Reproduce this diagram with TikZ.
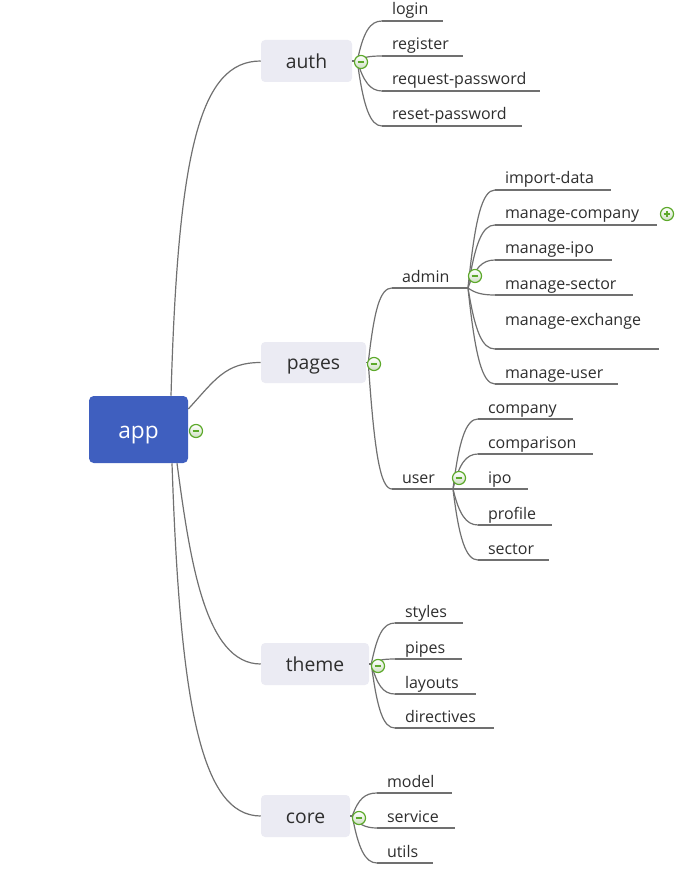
\documentclass[tikz,border=0pt]{standalone}
\usepackage{fontspec}
\setmainfont{Open Sans}
\usetikzlibrary{calc}
\definecolor{linec}{HTML}{707070}
\definecolor{boxc}{HTML}{EBEBF3}
\definecolor{appc}{HTML}{3F5FBF}
\definecolor{textc}{HTML}{2E2E2E}
\definecolor{markc}{HTML}{5DA92B}
\definecolor{markf}{HTML}{CFDFC4}
\tikzset{
  topic/.style={rounded corners=3pt, fill=boxc, text=textc, inner sep=0pt,
    text height=11.2pt, text depth=0pt,
    font=\fontsize{14.5}{17}\selectfont, minimum height=31.5pt},
  apptopic/.style={rounded corners=3.5pt, fill=appc, text=white, inner sep=0pt,
    text height=14.2pt, text depth=0pt,
    font=\fontsize{17}{20}\selectfont, minimum width=74.25pt, minimum height=50.25pt},
  leaf/.style={anchor=south west, inner xsep=7.5pt, inner ysep=4.5pt, text depth=0pt,
    outer sep=0pt, text=textc, font=\fontsize{12}{14}\selectfont},
  conn/.style={draw=linec, line width=0.9pt},
  uline/.style={draw=linec, line width=0.9pt},
  minusmark/.pic={
    \draw[markc, line width=0.9pt, top color=white, bottom color=markf] (0,0) circle[radius=4.9pt];
    \draw[markc, line width=1.1pt] (-3.4,0) -- (3.4,0);
  },
  plusmark/.pic={
    \draw[markc, line width=0.9pt, top color=white, bottom color=markf] (0,0) circle[radius=4.9pt];
    \draw[markc, line width=1.1pt] (-3.4,0) -- (3.4,0) (0,-3.4) -- (0,3.4);
  }
}
\begin{document}
\begin{tikzpicture}[x=0.75pt,y=-0.75pt]
\useasboundingbox (0,0) rectangle (691,873);

% main topics
\node[apptopic] (app) at (138.5,429.5) {app};
\node[topic, minimum width=68.25pt] (auth) at (306.5,61) {auth};
\node[topic, minimum width=78.75pt, minimum height=30.75pt] (pages) at (313.5,362.5) {pages};
\node[topic, minimum width=81pt] (theme) at (315,664) {theme};
\node[topic, minimum width=66.75pt] (core) at (305.5,816) {core};

% connectors from app
\draw[conn] ($(app.north)+(32.5,0)$) .. controls (178,150) and (200,61) .. (auth.west);
\draw[conn] ($(app.east)+(0,-20.5)$) .. controls (215,380) and (225,362.5) .. (pages.west);
\draw[conn] ($(app.south)+(38.5,0)$) .. controls (190,560) and (205,664) .. (theme.west);
\draw[conn] ($(app.south)+(33.5,0)$) .. controls (180,700) and (200,816) .. (core.west);

% origins
\coordinate (authO) at ($(auth.east)+(5,0)$);
\coordinate (pagesO) at ($(pages.east)+(2,0)$);
\coordinate (themeO) at ($(theme.east)+(2,0)$);
\coordinate (coreO) at ($(core.east)+(2,0)$);
\draw[conn] (auth.east) -- (authO);
\draw[conn] (pages.east) -- (pagesO);
\draw[conn] (theme.east) -- (themeO);
\draw[conn] (core.east) -- (coreO);

% auth leaves
\foreach \n/\t/\y/\l/\c in {login/login/21/61/-29, register/register/56/81/-4,
    reqpw/request-password/91/158/20, resetpw/reset-password/126/140/45}{
  \node[leaf] (\n) at (382,\y) {\t};
  \draw[uline] (\n.south west) -- ++(\l,0);
  \draw[conn] (authO) .. controls +(6,\c) and +(-12,0) .. (\n.south west);
}

% pages leaves
\node[leaf] (admin) at (392,288) {admin};
\coordinate (adminO) at ($(admin.south west)+(76,0)$);
\draw[uline] (admin.south west) -- (adminO);
\draw[conn] (pagesO) .. controls +(6,-53) and +(-12,0) .. (admin.south west);
\node[leaf] (user) at (392,489) {user};
\coordinate (userO) at ($(user.south west)+(61,0)$);
\draw[uline] (user.south west) -- (userO);
\draw[conn] (pagesO) .. controls +(6,88) and +(-12,0) .. (user.south west);

% admin leaves
\foreach \n/\t/\y/\l/\c/\s in {importdata/import-data/190/116/-69/4.5pt,
    mcompany/manage-company/225/162/-44/4.5pt, mipo/manage-ipo/260/117/-20/4.5pt,
    msector/manage-sector/295/138/5/4.5pt, mexchange/manage-exchange/349/164/43/18pt,
    muser/manage-user/384/123/67/4.5pt}{
  \node[leaf, inner ysep=\s] (\n) at (495,\y) {\t};
  \draw[uline] (\n.south west) -- ++(\l,0);
  \draw[conn] (adminO) .. controls +(7,\c) and +(-13,0) .. (\n.south west);
}

% user leaves
\foreach \n/\t/\y/\l/\c in {ucompany/company/419/95/-49, ucomparison/comparison/454/115/-25,
    uipo/ipo/489/50/0, uprofile/profile/525/74/25, usector/sector/560/71/50}{
  \node[leaf] (\n) at (478,\y) {\t};
  \draw[uline] (\n.south west) -- ++(\l,0);
  \draw[conn] (userO) .. controls +(6,\c) and +(-12,0) .. (\n.south west);
}

% theme leaves
\foreach \n/\t/\y/\l/\c in {styles/styles/623/68/-29, pipes/pipes/659/67/-4,
    layouts/layouts/694/81/21, directives/directives/728/99/45}{
  \node[leaf] (\n) at (395,\y) {\t};
  \draw[uline] (\n.south west) -- ++(\l,0);
  \draw[conn] (themeO) .. controls +(6,\c) and +(-12,0) .. (\n.south west);
}

% core leaves
\foreach \n/\t/\y/\l/\c in {model/model/793/75/-17, service/service/828/78/8,
    utils/utils/863/56/32}{
  \node[leaf] (\n) at (377,\y) {\t};
  \draw[uline] (\n.south west) -- ++(\l,0);
  \draw[conn] (coreO) .. controls +(6,\c) and +(-12,0) .. (\n.south west);
}

% collapse markers
\pic at (196,431) {minusmark};
\pic at (361,62) {minusmark};
\pic at (374,364) {minusmark};
\pic at (475,276) {minusmark};
\pic at (459,478) {minusmark};
\pic at (378,666) {minusmark};
\pic at (359,818) {minusmark};
\pic at (667,214) {plusmark};
\end{tikzpicture}
\end{document}
